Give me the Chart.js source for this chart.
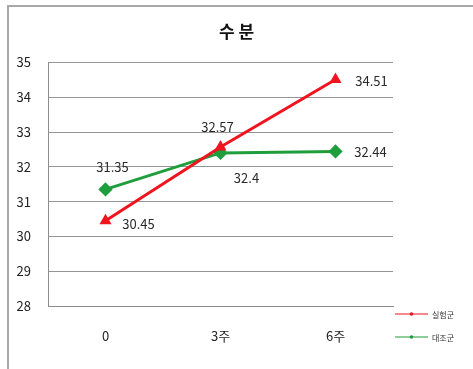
<!DOCTYPE html>
<html>
<head>
<meta charset="utf-8">
<script src="https://cdn.jsdelivr.net/npm/chart.js@4/dist/chart.umd.min.js"></script>
<style>
  html, body { margin: 0; padding: 0; background: #fff; }
  #wrap { position: relative; width: 473px; height: 369px; overflow: hidden; }
  #frame { position: absolute; left: 7px; top: 5px; right: -10px; bottom: -10px;
           border-left: 2px solid #a8a8a8; border-top: 2px solid #a8a8a8; }
  canvas { position: absolute; left: 0; top: 0; }
</style>
</head>
<body>
<div id="wrap">
  <div id="frame"></div>
  <canvas id="c" width="473" height="369"></canvas>
</div>
<script>
const titleText = '수 분';
const categories = ['0', '3주', '6주'];
const seriesNames = ['실험군', '대조군'];
const experimental = [30.45, 32.57, 34.51];
const control = [31.35, 32.4, 32.44];
const yTicks = [28, 29, 30, 31, 32, 33, 34, 35];

const RED = '#f0141e';
const GREEN = '#1e9e3c';
const FONT = "'Noto Sans CJK KR', 'Noto Sans', sans-serif";

// label placement around each point: [dx, dy] of the text centre
const labelOffsets = [
  [[33, 3], [-3, -20], [36, 2]],
  [[7, -22], [26, 25], [35, 1]]
];

const valueLabels = {
  id: 'valueLabels',
  afterDatasetsDraw(chart) {
    const ctx = chart.ctx;
    ctx.save();
    ctx.font = '13px ' + FONT;
    ctx.fillStyle = '#2a2a2a';
    ctx.textAlign = 'center';
    ctx.textBaseline = 'middle';
    chart.data.datasets.forEach((ds, di) => {
      chart.getDatasetMeta(di).data.forEach((pt, i) => {
        const [dx, dy] = labelOffsets[di][i];
        ctx.fillText(String(ds.data[i]), pt.x + dx, pt.y + dy);
      });
    });
    ctx.restore();
  }
};

const sideLegend = {
  id: 'sideLegend',
  afterDraw(chart) {
    const ctx = chart.ctx;
    ctx.save();
    chart.data.datasets.forEach((ds, di) => {
      const y = 314 + di * 23;
      const x0 = 395, x1 = 428;
      ctx.strokeStyle = ds.borderColor;
      ctx.lineWidth = 1.2;
      ctx.beginPath();
      ctx.moveTo(x0, y);
      ctx.lineTo(x1, y);
      ctx.stroke();
      ctx.fillStyle = ds.borderColor;
      ctx.beginPath();
      ctx.arc((x0 + x1) / 2, y, 1.8, 0, Math.PI * 2);
      ctx.fill();
      ctx.fillStyle = '#333';
      ctx.font = '8px ' + FONT;
      ctx.textAlign = 'left';
      ctx.textBaseline = 'middle';
      ctx.fillText(ds.label, 432, y + 1);
    });
    ctx.restore();
  }
};

new Chart(document.getElementById('c'), {
  type: 'line',
  data: {
    labels: categories,
    datasets: [
      {
        label: seriesNames[0],
        data: experimental,
        borderColor: RED,
        backgroundColor: RED,
        borderWidth: 3,
        pointStyle: 'triangle',
        pointRadius: 4,
        tension: 0
      },
      {
        label: seriesNames[1],
        data: control,
        borderColor: GREEN,
        backgroundColor: GREEN,
        borderWidth: 3,
        pointStyle: 'rectRot',
        pointRadius: 5,
        tension: 0
      }
    ]
  },
  options: {
    responsive: false,
    animation: false,
    layout: { padding: 0 },
    plugins: {
      legend: { display: false },
      tooltip: { enabled: false },
      title: {
        display: true,
        text: titleText,
        color: '#111',
        font: { family: FONT, size: 17, weight: 'bold', lineHeight: 1.2 },
        padding: { top: 21, bottom: 21 }
      }
    },
    scales: {
      x: {
        offset: true,
        grid: { display: false, drawTicks: false },
        border: { display: true, color: '#8c8c8c', width: 1 },
        ticks: { color: '#222', font: { family: FONT, size: 13 }, padding: 22 },
        afterFit(scale) { scale.height = 63; }
      },
      y: {
        min: yTicks[0],
        max: yTicks[yTicks.length - 1],
        afterBuildTicks(scale) { scale.ticks = yTicks.map(v => ({ value: v })); },
        grid: { color: '#959595', lineWidth: 1, drawTicks: false },
        border: { display: true, color: '#8c8c8c', width: 1 },
        ticks: { color: '#222', font: { family: FONT, size: 13 }, padding: 17 },
        afterFit(scale) { scale.width = 48; }
      },
      // empty right-hand axis that reserves the legend column
      side: {
        position: 'right',
        display: true,
        grid: { display: false, drawTicks: false },
        border: { display: false },
        ticks: { display: false },
        afterFit(scale) { scale.width = 80; }
      }
    }
  },
  plugins: [valueLabels, sideLegend]
});
</script>
</body>
</html>
